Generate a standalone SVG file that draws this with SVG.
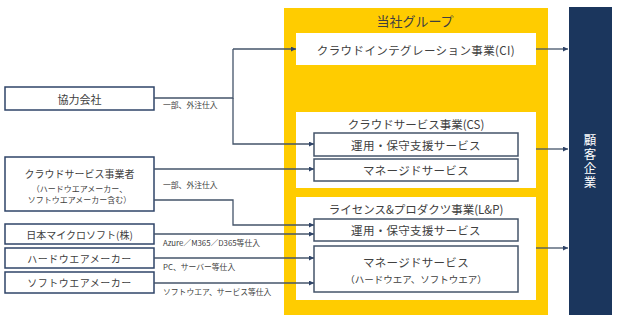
<svg xmlns="http://www.w3.org/2000/svg" width="620" height="323" viewBox="0 0 620 323">
<defs>
<marker id="ah" viewBox="0 0 6 6" refX="6" refY="3" markerWidth="5" markerHeight="5" markerUnits="userSpaceOnUse" orient="auto">
<path d="M0,0 L6,3 L0,6 z" fill="#2F4468"/>
</marker>
<style>
.src{fill:#fff;stroke:#2F4468;stroke-width:1.5}
.inner{fill:#fff;stroke:#44546A;stroke-width:1.5}
.seg{fill:#fff}
.t{font-family:"Noto Sans CJK JP","Noto Sans",sans-serif;fill:#404040;text-anchor:middle;dominant-baseline:central}
.lab{font-family:"Noto Sans CJK JP","Noto Sans",sans-serif;fill:#404040;font-size:7.8px;dominant-baseline:central}
.c{fill:none;stroke:#44546A;stroke-width:1.3}
.a{marker-end:url(#ah)}
</style>
</defs>
<rect width="620" height="323" fill="#fff"/>

<g id="group">
<rect x="284" y="8" width="264" height="307" fill="#FFCC00"/>
<text class="t" x="415" y="20" font-size="13">当社グループ</text>
</g>

<g id="ci">
<rect class="seg" x="296" y="33" width="240" height="32"/>
<text class="t" x="416" y="49.5" font-size="11.5" letter-spacing="0.4">クラウドインテグレーション事業(CI)</text>
</g>

<g id="cs">
<rect class="seg" x="296" y="112" width="240" height="76"/>
<text class="t" x="416" y="124" font-size="11.5">クラウドサービス事業(CS)</text>
</g>
<g id="cs-ops">
<rect class="inner" x="314" y="133" width="204" height="23"/>
<text class="t" x="416" y="144.5" font-size="11.5" letter-spacing="0.3">運用・保守支援サービス</text>
</g>
<g id="cs-managed">
<rect class="inner" x="314" y="159" width="204" height="22"/>
<text class="t" x="416" y="170" font-size="11.5" letter-spacing="0.3">マネージドサービス</text>
</g>

<g id="lp">
<rect class="seg" x="296" y="197" width="240" height="103"/>
<text class="t" x="416" y="209" font-size="11.5">ライセンス&amp;プロダクツ事業(L&amp;P)</text>
</g>
<g id="lp-ops">
<rect class="inner" x="314" y="219" width="204" height="22"/>
<text class="t" x="416" y="230" font-size="11.5" letter-spacing="0.3">運用・保守支援サービス</text>
</g>
<g id="lp-managed">
<rect class="inner" x="314" y="246" width="204" height="46"/>
<text class="t" x="416" y="262" font-size="11.5" letter-spacing="0.3">マネージドサービス</text>
<text class="t" x="416" y="279" font-size="9.5">（ハードウエア、ソフトウエア）</text>
</g>

<g id="customer">
<rect x="569" y="7" width="43" height="308" fill="#1B365D"/>
<text x="590" y="162" font-size="12.5" fill="#fff" font-family="&quot;Noto Sans CJK JP&quot;,sans-serif" writing-mode="vertical-rl" text-anchor="middle" letter-spacing="1.5">顧客企業</text>
</g>

<g id="partner">
<rect class="src" x="5" y="87" width="149" height="23"/>
<text class="t" x="79.5" y="98.5" font-size="11">協力会社</text>
</g>
<g id="cloud-vendor">
<rect class="src" x="5" y="157" width="149" height="54"/>
<text class="t" x="79.5" y="173" font-size="10">クラウドサービス事業者</text>
<text class="t" x="79.5" y="188" font-size="8">（ハードウエアメーカー、</text>
<text class="t" x="79.5" y="199" font-size="8">ソフトウエアメーカー含む）</text>
</g>
<g id="microsoft">
<rect class="src" x="5" y="224" width="149" height="20"/>
<text class="t" x="79.5" y="234" font-size="10">日本マイクロソフト(株)</text>
</g>
<g id="hw">
<rect class="src" x="5" y="248" width="149" height="20"/>
<text class="t" x="79.5" y="258" font-size="10" letter-spacing="0.5">ハードウエアメーカー</text>
</g>
<g id="sw">
<rect class="src" x="5" y="272" width="149" height="21"/>
<text class="t" x="79.5" y="282.5" font-size="10" letter-spacing="0.5">ソフトウエアメーカー</text>
</g>

<g id="connectors">
<path class="c" d="M154,98 H233 V49"/>
<path class="c a" d="M233,49 H296"/>
<path class="c a" d="M233,98 V144 H314"/>
<path class="c a" d="M154,169 H314"/>
<path class="c a" d="M154,200 H233 V225 H314"/>
<path class="c a" d="M154,234 H314"/>
<path class="c a" d="M154,258 H314"/>
<path class="c a" d="M154,283 H314"/>
<path class="c a" d="M536,49 H568"/>
<path class="c a" d="M536,149 H568"/>
<path class="c a" d="M536,248 H568"/>
<text class="lab" x="163" y="104">一部、外注仕入</text>
<text class="lab" x="163" y="184">一部、外注仕入</text>
<text class="lab" x="163" y="242" font-size="7">Azure／M365／D365等仕入</text>
<text class="lab" x="163" y="266" font-size="7.5">PC、サーバー等仕入</text>
<text class="lab" x="163" y="291" font-size="8">ソフトウエア、サービス等仕入</text>
</g>
</svg>
